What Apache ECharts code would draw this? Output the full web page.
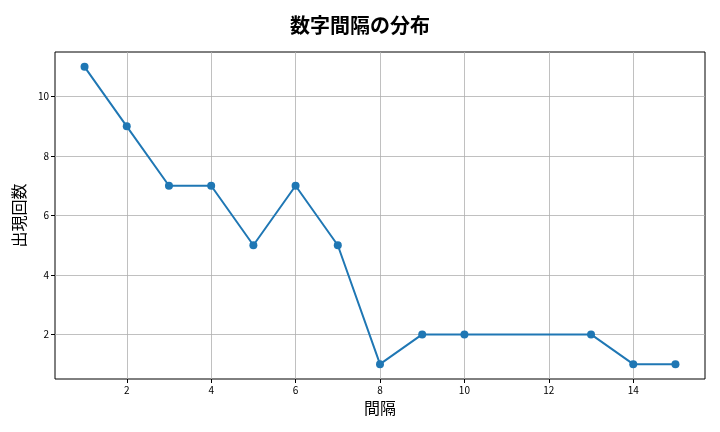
<!DOCTYPE html>
<html><head><meta charset="utf-8">
<script src="https://cdn.jsdelivr.net/npm/echarts@6/dist/echarts.min.js"></script>
<style>html,body{margin:0;padding:0;background:#fff}#c{width:720px;height:432px}</style>
</head><body><div id="c"></div>
<script>
const intervals = [1, 2, 3, 4, 5, 6, 7, 8, 9, 10, 13, 14, 15];
const counts = [11, 9, 7, 7, 5, 7, 5, 1, 2, 2, 2, 1, 1];
const xTicks = [2, 4, 6, 8, 10, 12, 14];
const yTicks = [2, 4, 6, 8, 10];
const titleText = '数字間隔の分布';
const xName = '間隔';
const yName = '出現回数';

const font = '"Noto Sans CJK JP", sans-serif';
const chart = echarts.init(document.getElementById('c'));
chart.setOption({
  animation: false,
  title: { text: titleText, left: 'center', top: 10,
    textStyle: { fontFamily: font, fontSize: 20, fontWeight: 'bold', color: '#000' } },
  grid: { left: 55, right: 15, top: 52, bottom: 53, show: true, borderColor: '#000', borderWidth: 1 },
  xAxis: {
    type: 'value', min: 0.3, max: 15.7,
    name: xName, nameLocation: 'middle', nameGap: 21,
    nameTextStyle: { fontFamily: font, fontSize: 16, color: '#000' },
    axisLine: { show: false },
    axisTick: { show: true, customValues: xTicks, length: 4, lineStyle: { color: '#000' } },
    axisLabel: { customValues: xTicks, fontFamily: font, fontSize: 10, color: '#000', margin: 6 },
    splitLine: { show: true, customValues: xTicks, lineStyle: { color: '#b0b0b0', width: 0.8 } }
  },
  yAxis: {
    type: 'value', min: 0.5, max: 11.5,
    name: yName, nameLocation: 'middle', nameGap: 24,
    nameTextStyle: { fontFamily: font, fontSize: 16, color: '#000' },
    axisLine: { show: false },
    axisTick: { show: true, customValues: yTicks, length: 4, lineStyle: { color: '#000' } },
    axisLabel: { customValues: yTicks, fontFamily: font, fontSize: 10, color: '#000', margin: 6 },
    splitLine: { show: true, customValues: yTicks, lineStyle: { color: '#b0b0b0', width: 0.8 } }
  },
  series: [{
    type: 'line',
    data: intervals.map((x, i) => [x, counts[i]]),
    symbol: 'circle', symbolSize: 8,
    lineStyle: { color: '#1f77b4', width: 2 },
    itemStyle: { color: '#1f77b4' }
  }]
});
</script></body></html>
